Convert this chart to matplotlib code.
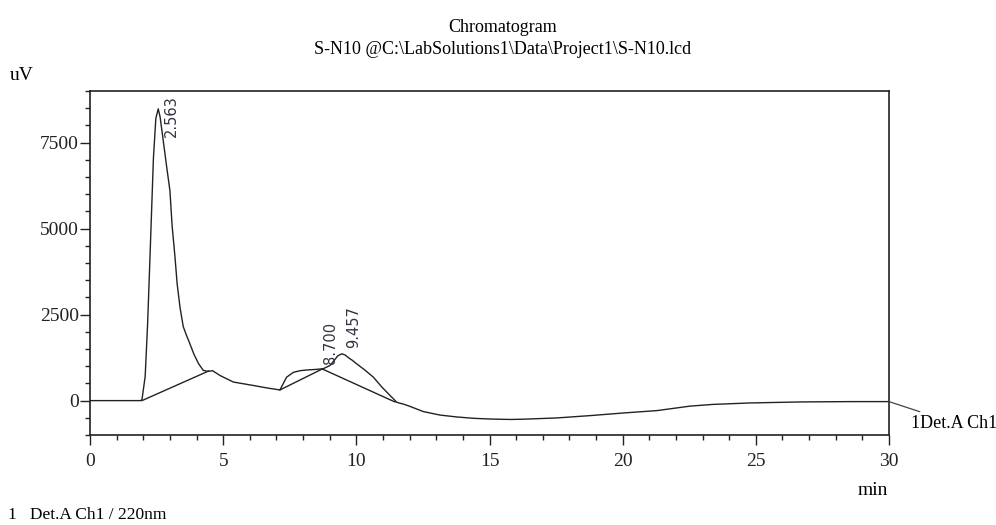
import numpy as np
import matplotlib
matplotlib.use("Agg")
import matplotlib.pyplot as plt
from matplotlib.ticker import MultipleLocator

# chromatogram trace (min, uV)
t = [0, 1.0, 1.9, 1.95, 2.07, 2.16, 2.25, 2.38, 2.47, 2.56, 2.63, 2.75, 2.88,
     3.0, 3.08, 3.19, 3.27, 3.38, 3.5, 3.62, 3.75, 3.9, 4.07, 4.25, 4.43,
     4.6, 4.88, 5.38, 6.13, 6.63, 7.13, 7.38, 7.63, 7.89, 8.13, 8.45, 8.75,
     9.01, 9.2, 9.3, 9.45, 9.57, 9.7, 9.85, 10.01, 10.3, 10.64, 10.95, 11.27,
     11.52, 11.8, 12.02, 12.52, 13.14, 13.77, 14.39, 15.02, 15.77, 16.27,
     17.52, 18.78, 20.03, 21.28, 22.53, 23.4, 24.78, 26.66, 28.54, 30]
uv = [0, 0, 0, 30, 700, 2200, 4150, 7050, 8200, 8480, 8250, 7550, 6780,
      6100, 5100, 4170, 3400, 2700, 2150, 1900, 1650, 1350, 1080, 880, 850,
      870, 730, 540, 440, 370, 310, 680, 820, 870, 890, 905, 925,
      1020, 1200, 1300, 1360, 1330, 1250, 1170, 1070, 900, 680, 400, 145,
      -50, -110, -170, -320, -420, -475, -514, -535, -548, -540,
      -504, -436, -359, -291, -160, -110, -68, -39, -29, -29]

# integration baselines
base_t = [[1.95, 4.45], [7.13, 8.72], [8.72, 11.45]]
base_uv = [[0, 860], [310, 920], [920, -40]]

# peak labels
peak_rt = ["2.563", "8.700", "9.457"]
label_x = [3.04, 9.03, 9.91]
label_y = [7650, 1075, 1540]

fig = plt.figure(figsize=(9.96, 5.25), dpi=100)
ax = fig.add_axes([0.0904, 0.1714, 0.8022, 0.6553])

ax.plot(t, uv, color="#222222", lw=1.0)
for bt, bu in zip(base_t, base_uv):
    ax.plot(bt, bu, color="#222222", lw=1.0)

for s, x, y in zip(peak_rt, label_x, label_y):
    ax.text(x, y, s, rotation=90, ha="center", va="bottom",
            fontsize=10.5, family="DejaVu Sans", color="#333344")

ax.set_xlim(0, 30)
ax.set_ylim(-1000, 9000)
ax.xaxis.set_major_locator(MultipleLocator(5))
ax.xaxis.set_minor_locator(MultipleLocator(1))
ax.set_yticks([0, 2500, 5000, 7500])
ax.yaxis.set_minor_locator(MultipleLocator(500))
ax.tick_params(which="major", direction="out", length=7.2, width=1.0,
               labelsize=14, colors="#222222")
ax.tick_params(axis="x", which="major", pad=6)
ax.tick_params(axis="y", which="major", pad=1)
ax.tick_params(which="minor", direction="out", length=3.6, width=1.0,
               colors="#222222")
for lab in ax.get_xticklabels() + ax.get_yticklabels():
    lab.set_family("Liberation Serif")
for sp in ax.spines.values():
    sp.set_linewidth(1.2)
    sp.set_color("#222222")

serif = "Liberation Serif"
fig.text(0.505, 0.948, "Chromatogram", ha="center", va="center",
         fontsize=13, family=serif)
fig.text(0.505, 0.905, "S-N10 @C:\\LabSolutions1\\Data\\Project1\\S-N10.lcd",
         ha="center", va="center", fontsize=13, family=serif)
fig.text(0.010, 0.857, "uV", ha="left", va="center", fontsize=14, family=serif)
fig.text(0.892, 0.065, "min", ha="right", va="center", fontsize=14, family=serif)
fig.text(0.008, 0.019, "1   Det.A Ch1 / 220nm", ha="left", va="center",
         fontsize=12.5, family=serif)

# channel tag at the right end of the trace
ax.annotate("1Det.A Ch1", xy=(30, uv[-1]), xycoords="data",
            xytext=(911 / 996, 1 - 423 / 525), textcoords="figure fraction",
            ha="left", va="center", fontsize=13, family=serif,
            arrowprops=dict(arrowstyle="-", color="#444444", lw=0.9,
                            shrinkA=0, shrinkB=0),
            annotation_clip=False)

fig.savefig("out.png", dpi=100)
